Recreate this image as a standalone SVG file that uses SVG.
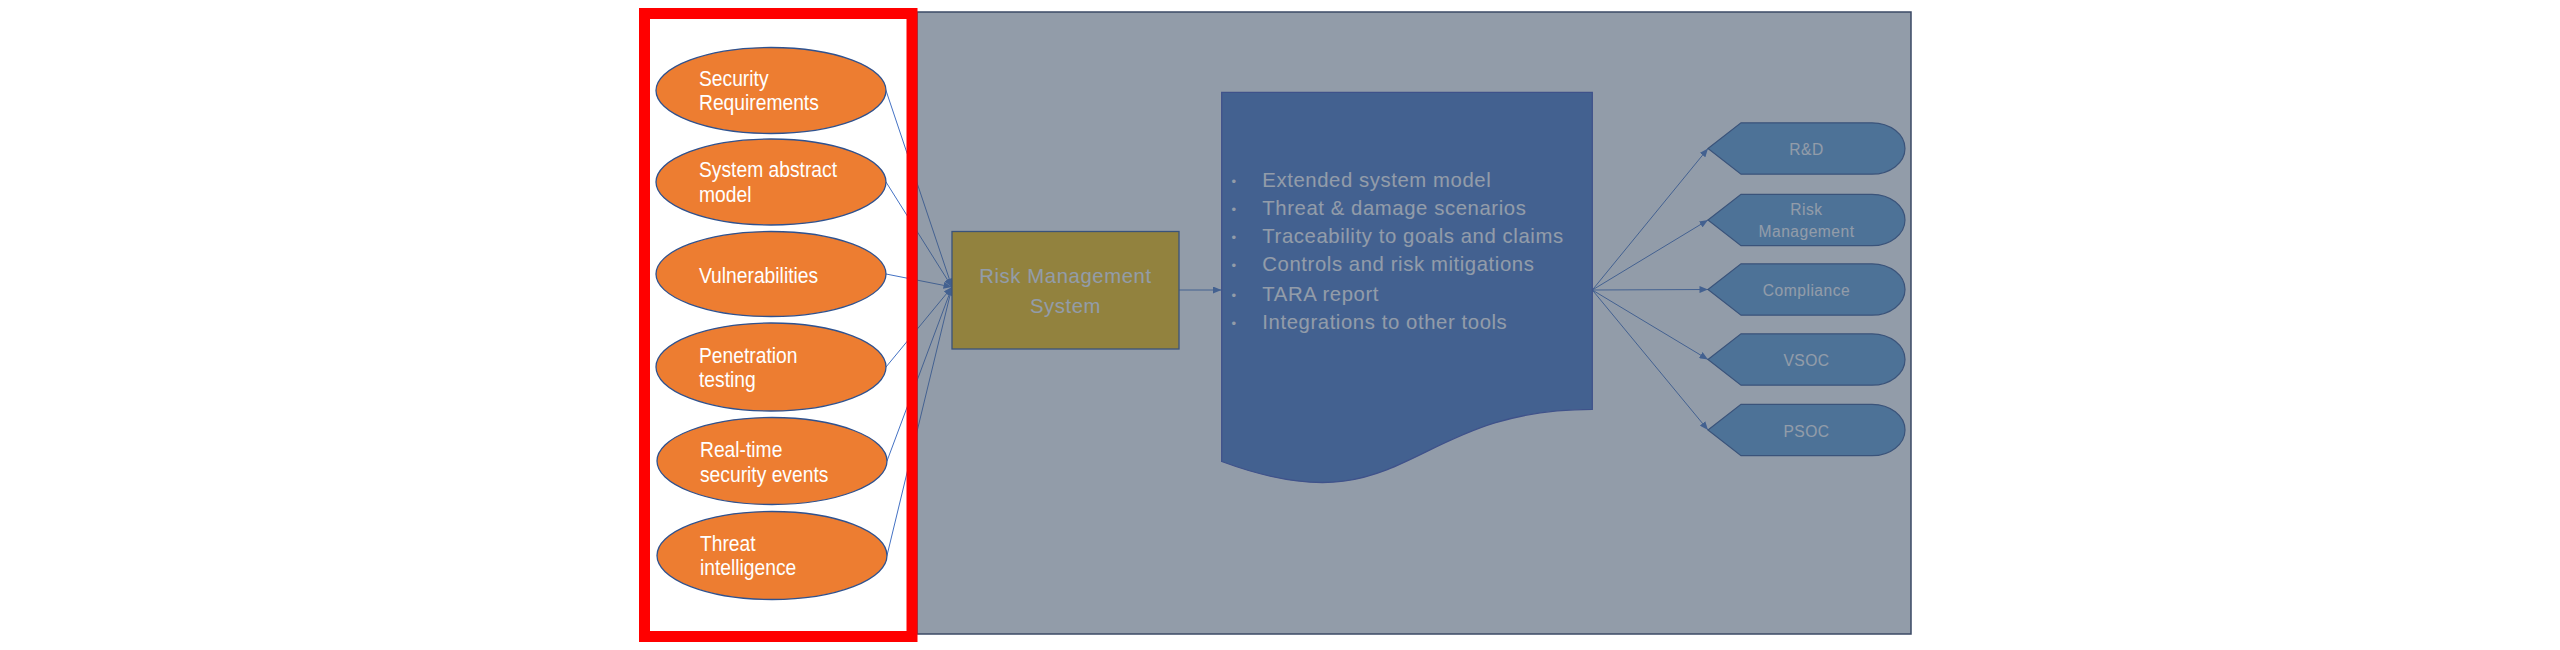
<svg xmlns="http://www.w3.org/2000/svg" width="2560" height="650" viewBox="0 0 2560 650">
<style>
.ell{fill:#ed7d31;stroke:#2f528f;stroke-width:1.3}
.etxt{font-family:"Liberation Sans",Arial,sans-serif;font-size:21.4px;fill:#ffffff}
.conn{stroke:#4472c4;stroke-width:1;fill:none}
.box{fill:#ffc000;stroke:#2f528f;stroke-width:1.3}
.doc{fill:#4472c4;stroke:#3a4fb5;stroke-width:1.3}
.disp{fill:#5b9bd5;stroke:#2f528f;stroke-width:1.2}
.btxt{font-family:"Liberation Sans",Arial,sans-serif;font-size:20.3px;letter-spacing:0.6px;fill:#ffffff}
.dtxt{font-family:"Liberation Sans",Arial,sans-serif;font-size:15.6px;letter-spacing:0.5px;fill:#ffffff;text-anchor:middle}
.bul{font-family:"Liberation Sans",Arial,sans-serif;font-size:13px;fill:#ffffff}
</style>
<defs>
<marker id="arr" markerUnits="userSpaceOnUse" markerWidth="9" markerHeight="7" refX="8.5" refY="3.5" orient="auto">
<path d="M0,0 L8.5,3.5 L0,7 z" fill="#4472c4"/>
</marker>
</defs>
<rect width="2560" height="650" fill="#ffffff"/>
<g id="connectors">
<line class="conn" x1="886" y1="90.5" x2="952" y2="287" marker-end="url(#arr)"/>
<line class="conn" x1="886" y1="182" x2="952" y2="287" marker-end="url(#arr)"/>
<line class="conn" x1="886" y1="274" x2="952" y2="287" marker-end="url(#arr)"/>
<line class="conn" x1="886" y1="367" x2="952" y2="287" marker-end="url(#arr)"/>
<line class="conn" x1="887" y1="461" x2="952" y2="287" marker-end="url(#arr)"/>
<line class="conn" x1="887" y1="555.5" x2="952" y2="287" marker-end="url(#arr)"/>
<line class="conn" x1="1179" y1="290" x2="1221.5" y2="290" marker-end="url(#arr)"/>
<line class="conn" x1="1592.3" y1="290" x2="1708" y2="148.5" marker-end="url(#arr)"/>
<line class="conn" x1="1592.3" y1="290" x2="1708" y2="220" marker-end="url(#arr)"/>
<line class="conn" x1="1592.3" y1="290" x2="1708" y2="289.5" marker-end="url(#arr)"/>
<line class="conn" x1="1592.3" y1="290" x2="1708" y2="359.5" marker-end="url(#arr)"/>
<line class="conn" x1="1592.3" y1="290" x2="1708" y2="430" marker-end="url(#arr)"/>
</g>
<g id="security-requirements">
<ellipse class="ell" cx="771" cy="90.5" rx="115" ry="43"/>
<g transform="translate(699,0) scale(0.9,1)">
<text class="etxt" x="0" y="86.5">Security</text>
<text class="etxt" x="0" y="110.5">Requirements</text>
</g>
</g>
<g id="system-abstract-model">
<ellipse class="ell" cx="771" cy="182" rx="115" ry="43"/>
<g transform="translate(699,0) scale(0.9,1)">
<text class="etxt" x="0" y="177">System abstract</text>
<text class="etxt" x="0" y="202">model</text>
</g>
</g>
<g id="vulnerabilities">
<ellipse class="ell" cx="771" cy="274" rx="115" ry="42.5"/>
<g transform="translate(699,0) scale(0.9,1)">
<text class="etxt" x="0" y="283">Vulnerabilities</text>
</g>
</g>
<g id="penetration-testing">
<ellipse class="ell" cx="771" cy="367" rx="115" ry="44"/>
<g transform="translate(699,0) scale(0.9,1)">
<text class="etxt" x="0" y="363">Penetration</text>
<text class="etxt" x="0" y="387">testing</text>
</g>
</g>
<g id="real-time-security-events">
<ellipse class="ell" cx="772" cy="461" rx="115" ry="43.5"/>
<g transform="translate(700,0) scale(0.9,1)">
<text class="etxt" x="0" y="457">Real-time</text>
<text class="etxt" x="0" y="482">security events</text>
</g>
</g>
<g id="threat-intelligence">
<ellipse class="ell" cx="772" cy="555.5" rx="115" ry="44"/>
<g transform="translate(700,0) scale(0.9,1)">
<text class="etxt" x="0" y="551">Threat</text>
<text class="etxt" x="0" y="575">intelligence</text>
</g>
</g>
<g id="risk-management-system">
<rect class="box" x="952" y="231.5" width="227" height="117.5"/>
<text class="btxt" x="1065.5" y="283.3" text-anchor="middle">Risk Management</text>
<text class="btxt" x="1065.5" y="313.3" text-anchor="middle">System</text>
</g>
<g id="outputs-document">
<path class="doc" d="M1221.7,92.3 H1592.3 V409.3 C1407,409.3 1407,530.1 1221.7,461.5 Z"/>
<text class="bul" x="1231.5" y="186">•</text>
<text class="bul" x="1231.5" y="214">•</text>
<text class="bul" x="1231.5" y="242">•</text>
<text class="bul" x="1231.5" y="270">•</text>
<text class="bul" x="1231.5" y="299.5">•</text>
<text class="bul" x="1231.5" y="327.5">•</text>
<text class="btxt" x="1262.3" y="187">Extended system model</text>
<text class="btxt" x="1262.3" y="215">Threat &amp; damage scenarios</text>
<text class="btxt" x="1262.3" y="243">Traceability to goals and claims</text>
<text class="btxt" x="1262.3" y="271">Controls and risk mitigations</text>
<text class="btxt" x="1262.3" y="300.5">TARA report</text>
<text class="btxt" x="1262.3" y="328.5">Integrations to other tools</text>
</g>
<g id="rnd">
<path class="disp" d="M1708,148.5 L1741,122.8 L1872,122.8 A33,25.7 0 0 1 1872,174.2 L1741,174.2 Z"/>
<text class="dtxt" x="1806.5" y="155">R&amp;D</text>
</g>
<g id="risk-management">
<path class="disp" d="M1708,220 L1741,194.3 L1872,194.3 A33,25.7 0 0 1 1872,245.7 L1741,245.7 Z"/>
<text class="dtxt" x="1806.5" y="215">Risk</text>
<text class="dtxt" x="1806.5" y="236.7">Management</text>
</g>
<g id="compliance">
<path class="disp" d="M1708,289.5 L1741,263.8 L1872,263.8 A33,25.7 0 0 1 1872,315.2 L1741,315.2 Z"/>
<text class="dtxt" x="1806.5" y="296">Compliance</text>
</g>
<g id="vsoc">
<path class="disp" d="M1708,359.5 L1741,333.8 L1872,333.8 A33,25.7 0 0 1 1872,385.2 L1741,385.2 Z"/>
<text class="dtxt" x="1806.5" y="366">VSOC</text>
</g>
<g id="psoc">
<path class="disp" d="M1708,430 L1741,404.3 L1872,404.3 A33,25.7 0 0 1 1872,455.7 L1741,455.7 Z"/>
<text class="dtxt" x="1806.5" y="436.5">PSOC</text>
</g>
<g id="dim-overlay">
<rect x="917" y="12" width="994" height="622" fill="#44546a" fill-opacity="0.58" stroke="#3b4a66" stroke-width="1.5"/>
</g>
<g id="highlight-frame">
<rect x="644.5" y="13.5" width="267.5" height="623" fill="none" stroke="#ff0000" stroke-width="11"/>
</g>
</svg>
